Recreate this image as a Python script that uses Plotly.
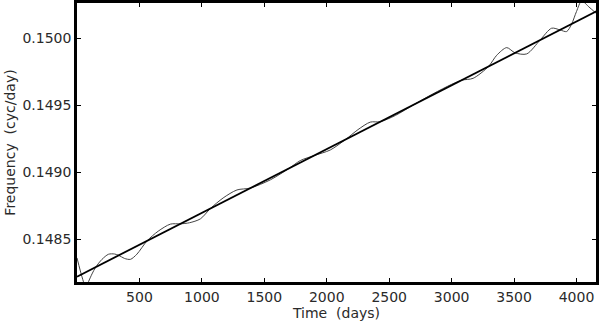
import plotly.graph_objects as go

# wavy curve (days, cyc/day)
curve_days = [0, 25, 52, 70, 92, 120, 150, 200, 252, 300, 334, 380, 428, 480, 561,
              650, 748, 828, 900, 988, 1068, 1170, 1281, 1388, 1550, 1700, 1788,
              1900, 2028, 2150, 2250, 2348, 2428, 2550, 2700, 2850, 3000, 3080,
              3172, 3295, 3361, 3441, 3508, 3601, 3708, 3801, 3868, 3921, 3961,
              4000, 4041, 4100, 4156]
curve_freq = [0.148361, 0.148270, 0.148182, 0.148135, 0.148183, 0.148241, 0.148292,
              0.148350, 0.148388, 0.148390, 0.148380, 0.148357, 0.148350, 0.148389,
              0.148488, 0.148560, 0.148613, 0.148615, 0.148623, 0.148652, 0.148729,
              0.148808, 0.148868, 0.148882, 0.148944, 0.149030, 0.149087, 0.149125,
              0.149166, 0.149244, 0.149318, 0.149374, 0.149377, 0.149424, 0.149506,
              0.149585, 0.149656, 0.149687, 0.149701, 0.149789, 0.149873, 0.149930,
              0.149891, 0.149883, 0.149986, 0.150075, 0.150062, 0.150050, 0.150106,
              0.150200, 0.150278, 0.150233, 0.150187]

# straight linear fit
fit_days = [0, 4160]
fit_freq = [0.148221, 0.150201]

x_ticks = [500, 1000, 1500, 2000, 2500, 3000, 3500, 4000]
y_ticks = [0.1485, 0.1490, 0.1495, 0.1500]

fig = go.Figure()
fig.add_trace(go.Scatter(x=curve_days, y=curve_freq, mode="lines",
                         line=dict(color="#444444", width=1, shape="spline", smoothing=0.8)))
fig.add_trace(go.Scatter(x=fit_days, y=fit_freq, mode="lines",
                         line=dict(color="black", width=1.8)))

axis_font = dict(family="DejaVu Sans", size=14, color="#2a2a2a")

fig.update_layout(
    width=600, height=322,
    margin=dict(l=77, r=4, t=3, b=40),
    paper_bgcolor="white", plot_bgcolor="white",
    showlegend=False,
    font=axis_font,
)
fig.update_xaxes(
    range=[0, 4156], tickvals=x_ticks, ticktext=[str(v) for v in x_ticks],
    ticks="inside", ticklen=4, tickwidth=1, tickcolor="black",
    showline=True, linecolor="black", linewidth=2.5, mirror="allticks",
    showgrid=False, zeroline=False, tickfont=axis_font,
    title=dict(text="Time\u00a0\u00a0(days)", font=axis_font, standoff=1),
    automargin=False,
)
fig.update_yaxes(
    range=[0.148181, 0.150263], tickvals=y_ticks, ticktext=["%.4f" % v for v in y_ticks],
    ticks="inside", ticklen=4, tickwidth=1, tickcolor="black",
    showline=True, linecolor="black", linewidth=2.5, mirror="allticks",
    showgrid=False, zeroline=False, tickfont=axis_font,
    title=dict(text="Frequency\u00a0\u00a0(cyc/day)", font=axis_font, standoff=4),
    automargin=False,
)

fig.write_html("out.html", config={"displayModeBar": False},
               post_script="document.body.style.margin='0';document.body.style.overflow='hidden';")
